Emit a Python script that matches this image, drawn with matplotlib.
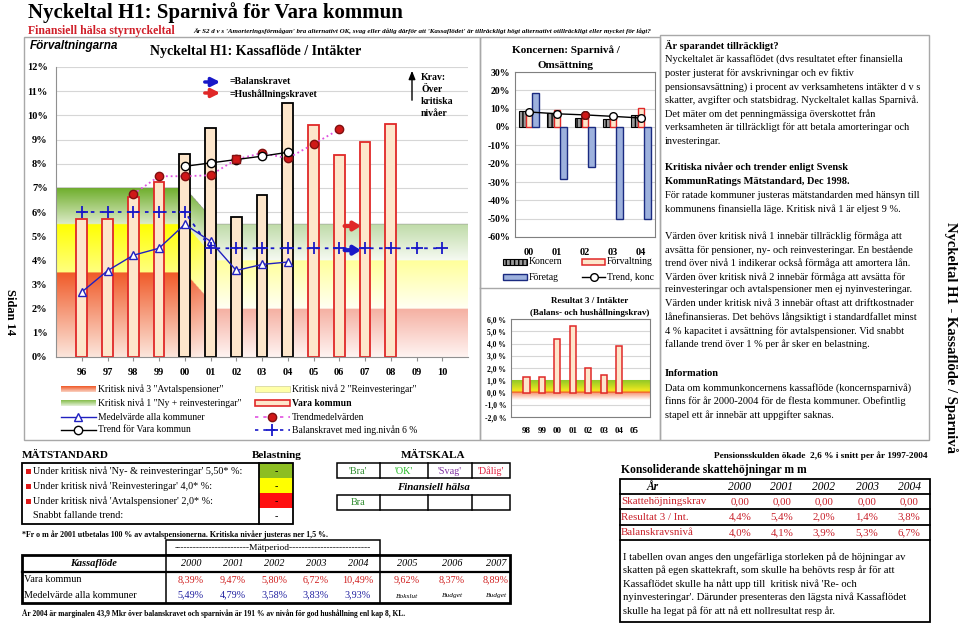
import numpy as np
import matplotlib
matplotlib.use('Agg')
import matplotlib.pyplot as plt
from matplotlib.patches import Rectangle

# ---- data ----
years_main = ['96', '97', '98', '99', '00', '01', '02', '03', '04', '05', '06', '07', '08', '09', '10']
vara = [5.70, 5.69, 6.63, 7.25, 8.39, 9.47, 5.80, 6.72, 10.49, 9.62, 8.37, 8.89, 9.66]
medel = [2.69, 3.57, 4.21, 4.50, 5.49, 4.79, 3.58, 3.83, 3.93]
balans = [6.0, 6.0, 6.0, 6.0, 6.0, 4.5, 4.5, 4.5, 4.5, 4.5, 4.5, 4.5, 4.5, 4.5, 4.5]
trend_medel_years = ['98', '99', '00', '01', '02', '03', '04', '05', '06']
trend_medel = [6.74, 7.48, 7.48, 7.52, 8.18, 8.44, 8.22, 8.81, 9.42]
trend_vara_years = ['00', '01', '02', '03', '04']
trend_vara = [7.89, 8.03, 8.17, 8.31, 8.47]
hush_level = 5.42
balans_level = 4.42

konc_years = ['00', '01', '02', '03', '04']
koncern = [8.7, 7.8, 4.7, 4.4, 6.8]
forvaltning = [8.39, 9.47, 5.80, 6.72, 10.49]
foretag = [18.4, -28.5, -21.8, -50.0, -50.0]
trend_konc = [8.2, 7.2, 6.6, 5.8, 4.9]

res_years = ['98', '99', '00', '01', '02', '03', '04', '05']
res = [1.24, 1.24, 4.4, 5.4, 2.0, 1.4, 3.8]

kf_years = ['2000', '2001', '2002', '2003', '2004', '2005', '2006', '2007']
kf_vara = ['8,39%', '9,47%', '5,80%', '6,72%', '10,49%', '9,62%', '8,37%', '8,89%']
kf_medel = ['5,49%', '4,79%', '3,58%', '3,83%', '3,93%', 'Bokslut', 'Budget', 'Budget']

sk_years = ['2000', '2001', '2002', '2003', '2004']
sk_krav = ['0,00', '0,00', '0,00', '0,00', '0,00']
sk_res = ['4,4%', '5,4%', '2,0%', '1,4%', '3,8%']
sk_balans = ['4,0%', '4,1%', '3,9%', '5,3%', '6,7%']

W, H = 960, 623
SERIF = 'Liberation Serif'
SANS = 'Liberation Sans'
plt.rcParams['font.family'] = [SERIF, 'DejaVu Sans']

BEIGE = '#FDE6CB'
RED = '#E02828'
BLUE = '#1818C8'
TRED = '#C8202A'

fig = plt.figure(figsize=(9.6, 6.23), dpi=100)
fig.patch.set_facecolor('white')


def add_ax(l, t, r, b):
    return fig.add_axes([l / W, 1 - b / H, (r - l) / W, (b - t) / H])


def c(h):
    h = h.lstrip('#')
    return np.array([int(h[i:i + 2], 16) / 255 for i in (0, 2, 4)])


# ---- main chart ----
ax = add_ax(56, 67, 468, 357)
ax.set_xlim(-1, 15)
ax.set_ylim(0, 12)

nx, ny = 800, 600
gx = np.linspace(-1, 15, nx)
gy = np.linspace(0, 12, ny)
X, Y = np.meshgrid(gx, gy)
s = np.clip((X - 4.0) / 1.25, 0, 1)[..., None]
b_red = 3.5 - 1.5 * s[..., 0]
b_yel = 5.5 - 1.5 * s[..., 0]
b_grn = 7.0 - 1.5 * s[..., 0]
img = np.zeros((ny, nx, 4))


def zone(mask, f, ltop, lbot, rtop, rbot):
    top = c(ltop) * (1 - s) + c(rtop) * s
    bot = c(lbot) * (1 - s) + c(rbot) * s
    col = bot + (top - bot) * f[..., None]
    img[mask, :3] = col[mask]
    img[mask, 3] = 1


zone(Y < b_red, Y / b_red, '#F05A28', '#FCE6DC', '#F5B0A2', '#FFF4F2')
m = (Y >= b_red) & (Y < b_yel)
zone(m, (Y - b_red) / 2.0, '#FFFF00', '#FFFF80', '#FFFF9A', '#FFFFF4')
m = (Y >= b_yel) & (Y < b_grn)
zone(m, (Y - b_yel) / 1.5, '#6FAE2C', '#DCEBC8', '#BFDBA8', '#F6FAF2')
ax.imshow(img, extent=(-1, 15, 0, 12), origin='lower', aspect='auto',
          interpolation='bilinear', zorder=0.6)

xm = np.arange(len(years_main))
edges = ['black' if y in trend_vara_years else RED for y in years_main[:len(vara)]]
ax.bar(xm[:len(vara)], vara, width=0.42, color=BEIGE, edgecolor=edges, linewidth=1.3, zorder=2)
ax.plot(xm[:len(medel)], medel, color='#2020C0', lw=1, marker='^', mfc='white',
        mec='#2020C0', ms=5.5, zorder=4)
ax.plot(xm, balans, color=BLUE, lw=1.3, ls=(0, (2, 3)), marker='+', ms=8, mew=1.3, zorder=4)
xt = [years_main.index(y) for y in trend_medel_years]
ax.plot(xt, trend_medel, color='#E050E0', ls=':', lw=1.3, zorder=3)
ax.plot(xt, trend_medel, ls='none', marker='o', mfc='#D01818', mec='#801010', ms=6, zorder=4)
xv = [years_main.index(y) for y in trend_vara_years]
ax.plot(xv, trend_vara, color='black', lw=1, marker='o', mfc='white', mec='black', ms=6, zorder=5)
i02 = trend_medel_years.index('02')
ax.plot(xt[i02], trend_medel[i02], ls='none', marker='s', mfc='#D01818', mec='#801010', ms=6, zorder=6)
ax.annotate('', xy=(10.95, hush_level), xytext=(10.1, hush_level), zorder=6,
            arrowprops=dict(arrowstyle='-|>,head_width=0.25,head_length=0.4', color=RED, lw=3))
ax.annotate('', xy=(10.95, balans_level), xytext=(10.1, balans_level), zorder=6,
            arrowprops=dict(arrowstyle='-|>,head_width=0.25,head_length=0.4', color=BLUE, lw=3))

ax.set_axisbelow(True)
ax.yaxis.grid(True, color='#D6D6D6', lw=0.8)
ax.set_yticks(range(13))
ax.set_yticklabels([f'{v}%' for v in range(13)], fontweight='bold', fontsize=7.5)
ax.set_xticks(xm)
ax.set_xticklabels(years_main, fontweight='bold', fontsize=7.5)
ax.tick_params(axis='y', length=0, pad=6)
ax.tick_params(axis='x', length=3, color='#909090', pad=5)
for sp in ['top', 'right']:
    ax.spines[sp].set_visible(False)
for sp in ['left', 'bottom']:
    ax.spines[sp].set_color('#909090')

# ---- koncernen chart ----
ak = add_ax(515, 72, 655, 237)
ak.set_xlim(-0.5, 4.5)
ak.set_ylim(-60, 30)
kx = np.arange(len(konc_years))
ak.bar(kx - 0.24, koncern, 0.24, color='#9A9A9A', edgecolor='black', hatch='||||', lw=0.8, zorder=2)
ak.bar(kx, forvaltning, 0.24, color=BEIGE, edgecolor=RED, lw=1, zorder=2)
ak.bar(kx + 0.24, foretag, 0.24, color='#9DB1DD', edgecolor='#1A2A80', lw=1, zorder=2)
ak.plot(kx, trend_konc, color='black', lw=1, marker='o', mfc='white', mec='black', ms=5.5, zorder=4)
ak.plot(kx[2], trend_konc[2], ls='none', marker='o', mfc='#D01818', mec='#701010', ms=5.5, zorder=5)
ak.set_axisbelow(True)
ak.yaxis.grid(True, color='#D6D6D6', lw=0.8)
ak.set_yticks(range(-60, 31, 10))
ak.set_yticklabels([f'{v}%' for v in range(-60, 31, 10)], fontweight='bold', fontsize=7)
ak.set_xticks(kx)
ak.set_xticklabels(konc_years, fontweight='bold', fontsize=7.5)
ak.tick_params(length=0)
ak.tick_params(axis='x', pad=8)
for sp in ak.spines.values():
    sp.set_color('#808080')

# ---- resultat 3 chart ----
ar = add_ax(511, 319, 650, 417)
ar.set_xlim(-1, 8)
ar.set_ylim(-2, 6)
stops_y = [-0.6, -0.05, 0.0, 0.15, 0.5, 1.0]
stops_c = ['#FFFFFF', '#F8A080', '#F05020', '#F4E820', '#C8DC20', '#90C828']
gyr = np.linspace(-0.6, 1.0, 200)
gimg = np.stack([np.interp(gyr, stops_y, [c(h)[k] for h in stops_c]) for k in range(3)], axis=-1)
gimg = np.repeat(gimg[:, None, :], 2, axis=1)
ar.imshow(gimg, extent=(-1, 8, -0.6, 1.0), origin='lower', aspect='auto', zorder=0.6)
rx = np.arange(len(res_years))
ar.bar(rx[:len(res)], res, 0.4, color=BEIGE, edgecolor=RED, lw=1.1, zorder=2)
ar.set_axisbelow(True)
ar.yaxis.grid(True, color='#D6D6D6', lw=0.8)
ar.set_yticks(range(-2, 7))
ar.set_yticklabels([f'{v},0 %' for v in range(-2, 7)], fontweight='bold', fontsize=5.5)
ar.set_xticks(rx)
ar.set_xticklabels(res_years, fontweight='bold', fontsize=6.5)
ar.tick_params(length=0)
ar.tick_params(axis='x', pad=7)
for sp in ar.spines.values():
    sp.set_color('#808080')

# ---- overlay for texts, frames and tables (pixel coordinates) ----
ov = fig.add_axes([0, 0, 1, 1])
ov.patch.set_alpha(0)
ov.axis('off')


def T(x, y, s, size=7.5, weight='normal', style='normal', color='black', ha='left',
      va='center', family=SERIF, rot=0):
    ov.text(x, y, s, fontsize=size, fontweight=weight, fontstyle=style, color=color,
            ha=ha, va=va, family=family, rotation=rot)


def rect(x0, y0, x1, y1, fc='none', ec='black', lw=1):
    ov.add_patch(Rectangle((x0, y0), x1 - x0, y1 - y0, facecolor=fc, edgecolor=ec, lw=lw))


def hl(x0, x1, y, lw=1, color='black'):
    ov.plot([x0, x1], [y, y], color=color, lw=lw)


def vl(x, y0, y1, lw=1, color='black'):
    ov.plot([x, x], [y0, y1], color=color, lw=lw)


def grad(x0, y0, x1, y1, ctop, cbot):
    g = np.linspace(0, 1, 20)[:, None]
    im = c(ctop)[None, :] * (1 - g) + c(cbot)[None, :] * g
    im = np.repeat(im[:, None, :], 2, axis=1)
    ov.imshow(im, extent=(x0, x1, y1, y0), origin='upper', aspect='auto', zorder=1)


# header
T(28, 13, 'Nyckeltal H1: Sparnivå för Vara kommun', size=15, weight='bold')
T(28, 31, 'Finansiell hälsa styrnyckeltal', size=8.5, weight='bold', color='#D0202A')
T(193, 31, "Är S2 d v s 'Amorteringsförmågan' bra alternativt OK, svag eller dålig därför att "
           "'Kassaflödet' är tillräckligt högt alternativt otillräckligt eller mycket för lågt?",
  size=5.0, weight='bold', style='italic')

# frames
rect(24, 37, 480, 440, ec='#A8A8A8', lw=1)
rect(480, 37, 660, 440, ec='#A8A8A8', lw=1)
hl(480, 660, 288, lw=1, color='#A8A8A8')
rect(660, 35, 929, 440, ec='#A8A8A8', lw=1)

T(30, 46, 'Förvaltningarna', size=8.5, weight='bold', style='italic', family=SANS)
T(256, 52, 'Nyckeltal H1: Kassaflöde / Intäkter', size=10, weight='bold', ha='center')

# top legend inside main chart
ov.annotate('', xy=(223, 82), xytext=(202, 82),
            arrowprops=dict(arrowstyle='-|>,head_width=0.25,head_length=0.5', color=BLUE, lw=2.5))
ov.annotate('', xy=(223, 93), xytext=(202, 93),
            arrowprops=dict(arrowstyle='-|>,head_width=0.25,head_length=0.5', color=RED, lw=2.5))
T(230, 82, '=Balanskravet', size=7, weight='bold')
T(230, 94, '=Hushållningskravet', size=7, weight='bold')
ov.annotate('', xy=(412, 68), xytext=(412, 103),
            arrowprops=dict(arrowstyle='-|>,head_width=0.2,head_length=0.5', color='black', lw=1))
for k, s_ in enumerate(['Krav:', 'Över', 'kritiska', 'nivåer']):
    T(421, 77 + 12.3 * k, s_, size=7, weight='bold')

# bottom legend of main chart
ly = [389, 403, 417, 430]
LS = 6.9
grad(61, 386, 96, 392, '#F05A28', '#FAD0C0')
T(98, ly[0], 'Kritisk nivå 3 "Avtalspensioner"', size=LS)
rect(255, 386, 290, 392, fc='#FFFFA8', ec='#D8D8A0', lw=0.6)
T(292, ly[0], 'Kritisk nivå 2 "Reinvesteringar"', size=LS)
grad(61, 400, 96, 406, '#86BE4C', '#E4F0D8')
T(98, ly[1], 'Kritisk nivå 1 "Ny + reinvesteringar"', size=LS)
rect(255, 400, 290, 406, fc=BEIGE, ec=RED, lw=1.2)
T(292, ly[1], 'Vara kommun', size=LS, weight='bold')
ov.plot([61, 96], [ly[2], ly[2]], color='#2020C0', lw=1)
ov.plot([78], [ly[2]], marker='^', mfc='white', mec='#2020C0', ms=5.5)
T(98, ly[2], 'Medelvärde alla kommuner', size=LS)
ov.plot([255, 290], [ly[2], ly[2]], color='#E050E0', ls=(0, (2, 3)), lw=1.2)
ov.plot([272], [ly[2]], marker='o', mfc='#D01818', mec='#801010', ms=6)
T(292, ly[2], 'Trendmedelvärden', size=LS)
ov.plot([61, 96], [ly[3], ly[3]], color='black', lw=1)
ov.plot([78], [ly[3]], marker='o', mfc='white', mec='black', ms=6)
T(98, ly[3], 'Trend för Vara kommun', size=LS)
ov.plot([255, 290], [ly[3], ly[3]], color=BLUE, ls=(0, (2, 3)), lw=1.2)
ov.plot([272], [ly[3]], marker='+', color=BLUE, ms=8, mew=1.3)
T(292, ly[3], 'Balanskravet med ing.nivån 6 %', size=LS)

# koncernen titles and legend
T(566, 50, 'Koncernen: Sparnivå /', size=8, weight='bold', ha='center')
T(566, 65, 'Omsättning', size=8, weight='bold', ha='center')
ov.add_patch(Rectangle((503, 259), 24, 6, facecolor='#9A9A9A', edgecolor='black', hatch='||||', lw=0.8))
T(529, 262, 'Koncern', size=7)
rect(582, 259, 605, 265, fc=BEIGE, ec=RED, lw=1.1)
T(607, 262, 'Förvaltning', size=7)
rect(503, 274, 527, 280, fc='#9DB1DD', ec='#1A2A80', lw=1)
T(529, 277, 'Företag', size=7)
ov.plot([582, 605], [277, 277], color='black', lw=1)
ov.plot([593.5], [277], marker='o', mfc='white', mec='black', ms=5.5)
T(607, 277, 'Trend, konc', size=7)

T(590, 301, 'Resultat 3 / Intäkter', size=6.5, weight='bold', ha='center')
T(590, 313, '(Balans- och hushållningskrav)', size=6.5, weight='bold', ha='center')

# side texts
T(10, 312, 'Sidan 14', size=9, weight='bold', ha='center', rot=-90)
T(951, 338, 'Nyckeltal H1 - Kassaflöde / Sparnivå', size=10.5, weight='bold', ha='center', rot=-90)

# text panel
panel = [
    (45, 'Är sparandet tillräckligt?', 'bold'),
    (59, 'Nyckeltalet är kassaflödet (dvs resultatet efter finansiella', 'normal'),
    (73, 'poster justerat för avskrivningar och ev fiktiv', 'normal'),
    (87, 'pensionsavsättning) i procent av verksamhetens intäkter d v s', 'normal'),
    (100, 'skatter, avgifter och statsbidrag. Nyckeltalet kallas Sparnivå.', 'normal'),
    (114, 'Det mäter om det penningmässiga överskottet från', 'normal'),
    (127, 'verksamheten är tillräckligt för att betala amorteringar och', 'normal'),
    (141, 'investeringar.', 'normal'),
    (167, 'Kritiska nivåer och trender enligt Svensk', 'bold'),
    (182, 'KommunRatings Mätstandard, Dec 1998.', 'bold'),
    (196, 'För ratade kommuner justeras mätstandarden med hänsyn till', 'normal'),
    (209, 'kommunens finansiella läge. Kritisk nivå 1 är eljest 9 %.', 'normal'),
    (236, 'Värden över kritisk nivå 1 innebär tillräcklig förmåga att', 'normal'),
    (250, 'avsätta för pensioner, ny- och reinvesteringar. En bestående', 'normal'),
    (263, 'trend över nivå 1 indikerar också förmåga att amortera lån.', 'normal'),
    (277, 'Värden över kritisk nivå 2 innebär förmåga att avsätta för', 'normal'),
    (290, 'reinvesteringar och avtalspensioner men ej nyinvesteringar.', 'normal'),
    (304, 'Värden under kritisk nivå 3 innebär oftast att driftkostnader', 'normal'),
    (317, 'lånefinansieras. Det behövs långsiktigt i standardfallet minst', 'normal'),
    (331, '4 % kapacitet i avsättning för avtalspensioner. Vid snabbt', 'normal'),
    (344, 'fallande trend över 1 % per år sker en belastning.', 'normal'),
    (374, 'Information', 'bold'),
    (388, 'Data om kommunkoncernens kassaflöde (koncernsparnivå)', 'normal'),
    (401, 'finns för år 2000-2004 för de flesta kommuner. Obefintlig', 'normal'),
    (415, 'stapel ett år innebär att uppgifter saknas.', 'normal'),
]
for y, s_, w in panel:
    T(665, y, s_, size=7.5, weight=w)

# MÄTSTANDARD table
TS = 7.3
T(22, 455, 'MÄTSTANDARD', size=8, weight='bold')
T(277, 455, 'Belastning', size=8, weight='bold', ha='center')
rows_y = [471, 486, 501, 516]
rect(259, 463, 293, 478, fc='#8DBE22', ec='none')
rect(259, 478, 293, 493, fc='#FFFF00', ec='none')
rect(259, 493, 293, 508, fc='#FF1010', ec='none')
rect(22, 463, 293, 524, lw=1.3)
vl(259, 463, 524, lw=1.3)
ms_text = ["Under kritisk nivå 'Ny- & reinvesteringar' 5,50* %:",
           "Under kritisk nivå 'Reinvesteringar' 4,0* %:",
           "Under kritisk nivå 'Avtalspensioner' 2,0* %:",
           'Snabbt fallande trend:']
for k, y in enumerate(rows_y):
    if k < 3:
        rect(25.5, y - 2.5, 30.5, y + 2.5, fc='#E01818', ec='none')
    T(33, y, ms_text[k], size=TS)
    T(276, y + 0.5, '-', size=TS, ha='center')
T(22, 535, '*Fr o m år 2001 utbetalas 100 % av avtalspensionerna. Kritiska nivåer justeras ner 1,5 %.',
  size=5.65, weight='bold')

# MÄTSKALA
T(433, 455, 'MÄTSKALA', size=8, weight='bold', ha='center')
rect(337, 463, 510, 478, lw=1.1)
rect(337, 495, 510, 510, lw=1.1)
for x in [380, 428, 472]:
    vl(x, 463, 478, lw=1.1)
    vl(x, 495, 510, lw=1.1)
for x, s_, col in [(358, "'Bra'", '#2E8B2E'), (404, "'OK'", '#22BB22'),
                   (450, "'Svag'", '#8030A0'), (491, "'Dålig'", '#E02040')]:
    T(x, 471, s_, size=TS, ha='center', color=col)
T(433, 487, 'Finansiell hälsa', size=7.8, weight='bold', style='italic', ha='center')
T(358, 502.5, 'Bra', size=TS, ha='center', color='#2E8B2E')

# Kassaflöde table
rect(166, 540, 380, 555, lw=1.1)
T(273, 547.5, '------------------------Mätperiod--------------------------', size=6.8, ha='center')
rect(22, 555, 510, 603, lw=2)
hl(22, 510, 572, lw=1.6)
vl(166, 555, 603, lw=1.1)
vl(380, 555, 603, lw=1.1)
col_x = [191, 233, 274, 316, 358, 407, 452, 496]
T(94, 563.5, 'Kassaflöde', size=7.5, weight='bold', style='italic', ha='center')
T(24, 580, 'Vara kommun', size=TS)
T(24, 595, 'Medelvärde alla kommuner', size=TS)
for k, x in enumerate(col_x):
    T(x, 563.5, kf_years[k], size=TS, style='italic', ha='center')
    T(x, 580, kf_vara[k], size=TS, ha='center', color='#D02020')
    if kf_medel[k].endswith('%'):
        T(x, 595, kf_medel[k], size=TS, ha='center', color='#2020A0')
    else:
        T(x, 596, kf_medel[k], size=5.3, style='italic', ha='center')
T(22, 614, 'År 2004 är marginalen 43,9 Mkr över balanskravet och sparnivån är 191 % av nivån för god '
           'hushållning enl kap 8, KL.', size=5.45, weight='bold')

# Konsoliderande table
T(928, 456, 'Pensionsskulden ökade  2,6 % i snitt per år 1997-2004', size=6.7, weight='bold', ha='right')
T(621, 470.5, 'Konsoliderande skattehöjningar m m', size=8.4, weight='bold')
rect(620, 479, 930, 622, lw=1.3)
for y in [494, 509, 525, 540]:
    hl(620, 930, y, lw=1.3)
sk_x = [740, 782, 824, 867, 909]
T(653, 486.5, 'År', size=8.3, weight='bold', style='italic', ha='center')
for k, x in enumerate(sk_x):
    T(x, 486.5, sk_years[k], size=8.3, style='italic', ha='center')
    T(x, 501.5, sk_krav[k], size=7.8, ha='center', color=TRED)
    T(x, 517, sk_res[k], size=7.8, ha='center', color=TRED)
    T(x, 532.5, sk_balans[k], size=7.8, ha='center', color=TRED)
T(621, 501.5, 'Skattehöjningskrav', size=7.8, color=TRED)
T(621, 517, 'Resultat 3 / Int.', size=7.8, color=TRED)
T(621, 532.5, 'Balanskravsnivå', size=7.8, color=TRED)
para = ['I tabellen ovan anges den ungefärliga storleken på de höjningar av',
        'skatten på egen skattekraft, som skulle ha behövts resp år för att',
        "Kassaflödet skulle ha nått upp till  kritisk nivå 'Re- och",
        "nyinvesteringar'. Därunder presenteras den lägsta nivå Kassaflödet",
        'skulle ha legat på för att nå ett nollresultat resp år.']
for k, s_ in enumerate(para):
    T(623, 557 + 13.5 * k, s_, size=7.65)

ov.set_xlim(0, W)
ov.set_ylim(H, 0)

fig.savefig('out.png', dpi=100)
